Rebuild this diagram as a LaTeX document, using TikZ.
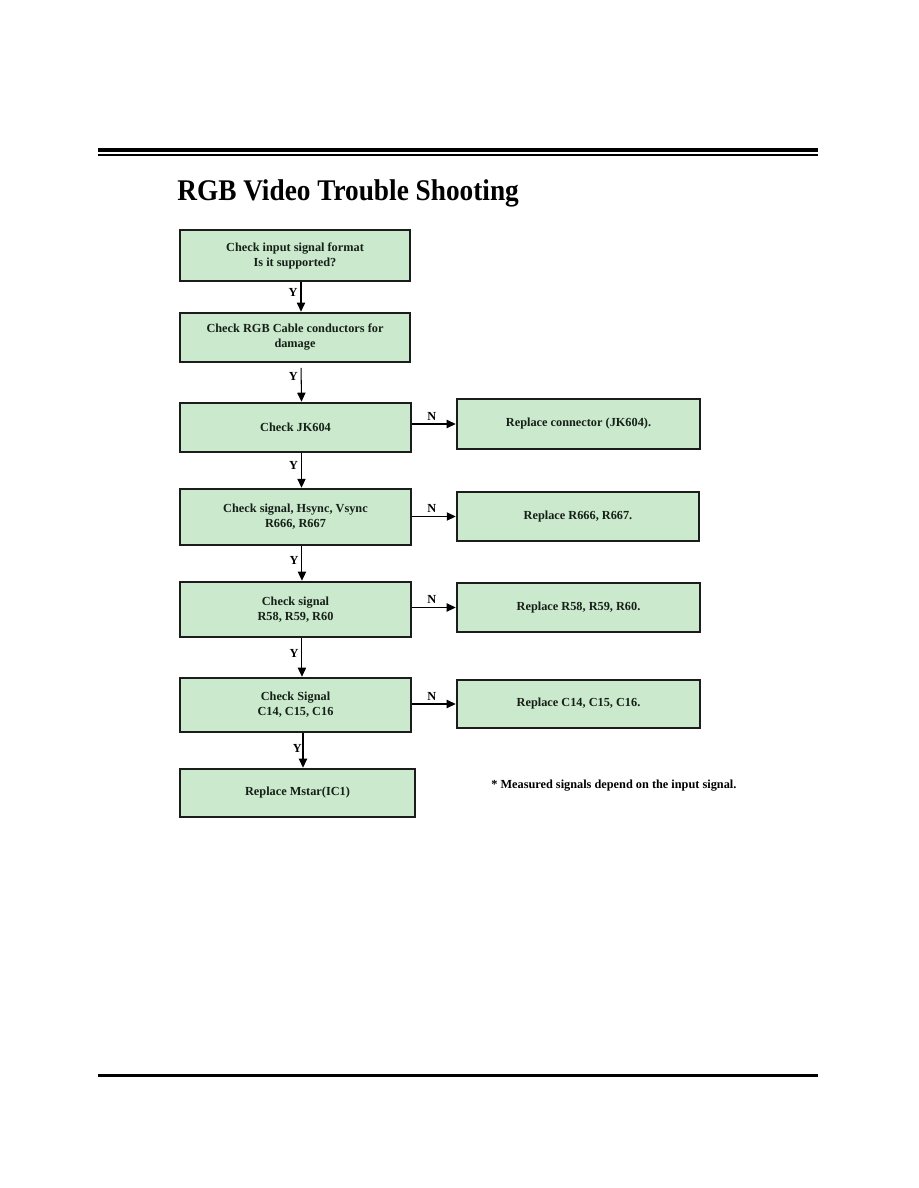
\documentclass[tikz,border=0pt]{standalone}
\usepackage{fontspec}
\usepackage{graphicx}
\setmainfont{Liberation Serif}
\usetikzlibrary{arrows.meta,calc}
\definecolor{boxfill}{RGB}{202,233,205}
\definecolor{boxline}{RGB}{28,28,28}
\definecolor{boxtext}{RGB}{22,32,24}
\tikzset{
  flowbox/.style={draw=boxline, fill=boxfill, line width=1.7pt, align=center,
    text=boxtext, font=\fontsize{8.2}{10}\selectfont\bfseries, inner sep=0pt},
  flowarr/.style={line width=0.7pt, draw=black, -{Triangle[length=6pt,width=5.5pt]}},
  yn/.style={font=\fontsize{8.2}{10}\selectfont\bfseries, text=black, inner sep=2pt}
}
\begin{document}
\begin{tikzpicture}[x=0.6667pt,y=-0.6667pt]
\useasboundingbox (0,0) rectangle (918,1188);
% header rules
\fill[black] (98,148.5) rectangle (818,152.5);
\fill[black] (98,154.5) rectangle (818,156.5);
\fill[black] (98,1074) rectangle (818,1076.5);
% title
\node[anchor=base west, inner sep=0pt] (title) at (177,201)
  {\scalebox{0.91}[1]{\fontsize{20}{24}\selectfont\bfseries RGB Video Trouble Shooting}};
% boxes
\node[flowbox, minimum width=153.3pt, minimum height=34pt] (b1) at (295,255.5) {Check input signal format\\Is it supported?};
\node[flowbox, minimum width=153.3pt, minimum height=32.7pt] (b2) at (295,337.5) {Check RGB Cable conductors for\\damage};
\node[flowbox, minimum width=154pt, minimum height=32.7pt] (b3) at (295.5,427.5) {Check JK604};
\node[flowbox, minimum width=162pt, minimum height=33.3pt] (b3n) at (578.5,424) {Replace connector (JK604).};
\node[flowbox, minimum width=154pt, minimum height=37.3pt] (b4) at (295.5,517) {Check signal, Hsync, Vsync\\R666, R667};
\node[flowbox, minimum width=161.3pt, minimum height=32.7pt] (b4n) at (578,516.5) {Replace R666, R667.};
\node[flowbox, minimum width=154pt, minimum height=36.7pt] (b5) at (295.5,609.5) {Check signal\\R58, R59, R60};
\node[flowbox, minimum width=162pt, minimum height=32.7pt] (b5n) at (578.5,607.5) {Replace R58, R59, R60.};
\node[flowbox, minimum width=154pt, minimum height=36pt] (b6) at (295.5,705) {Check Signal\\C14, C15, C16};
\node[flowbox, minimum width=162pt, minimum height=32pt] (b6n) at (578.5,704) {Replace C14, C15, C16.};
\node[flowbox, minimum width=156.7pt, minimum height=32pt] (b7) at (297.5,793) {Replace Mstar(IC1)};
% note
\node[anchor=base west, inner sep=0pt, font=\fontsize{8.2}{10}\selectfont\bfseries] (note) at (491,788)
  {* Measured signals depend on the input signal.};
% vertical arrows
\draw[flowarr] ([xshift=4pt]b1.south) -- node[yn, pos=0.35, left] {Y} ([xshift=4pt]b2.north);
\draw[flowarr, shorten <=3pt] ([xshift=4pt]b2.south) -- node[yn, pos=0.35, left] {Y} ([xshift=4pt]b3.north);
\draw[flowarr] ([xshift=4pt]b3.south) -- node[yn, pos=0.35, left] {Y} ([xshift=4pt]b4.north);
\draw[flowarr] ([xshift=4.3pt]b4.south) -- node[yn, pos=0.4, left] {Y} ([xshift=4.3pt]b5.north);
\draw[flowarr] ([xshift=4.3pt]b5.south) -- node[yn, pos=0.4, left] {Y} ([xshift=4.3pt]b6.north);
\draw[flowarr] ([xshift=5pt]b6.south) -- node[yn, pos=0.45, left, inner sep=0.5pt] {Y} ([xshift=5pt]b6.south |- b7.north);
% horizontal arrows
\draw[flowarr] (b3.east |- b3n.west) -- node[yn, pos=0.45, above] {N} (b3n.west);
\draw[flowarr] (b4.east |- b4n.west) -- node[yn, pos=0.45, above] {N} (b4n.west);
\draw[flowarr] (b5.east |- b5n.west) -- node[yn, pos=0.45, above] {N} (b5n.west);
\draw[flowarr] (b6.east |- b6n.west) -- node[yn, pos=0.45, above] {N} (b6n.west);
\end{tikzpicture}
\end{document}
